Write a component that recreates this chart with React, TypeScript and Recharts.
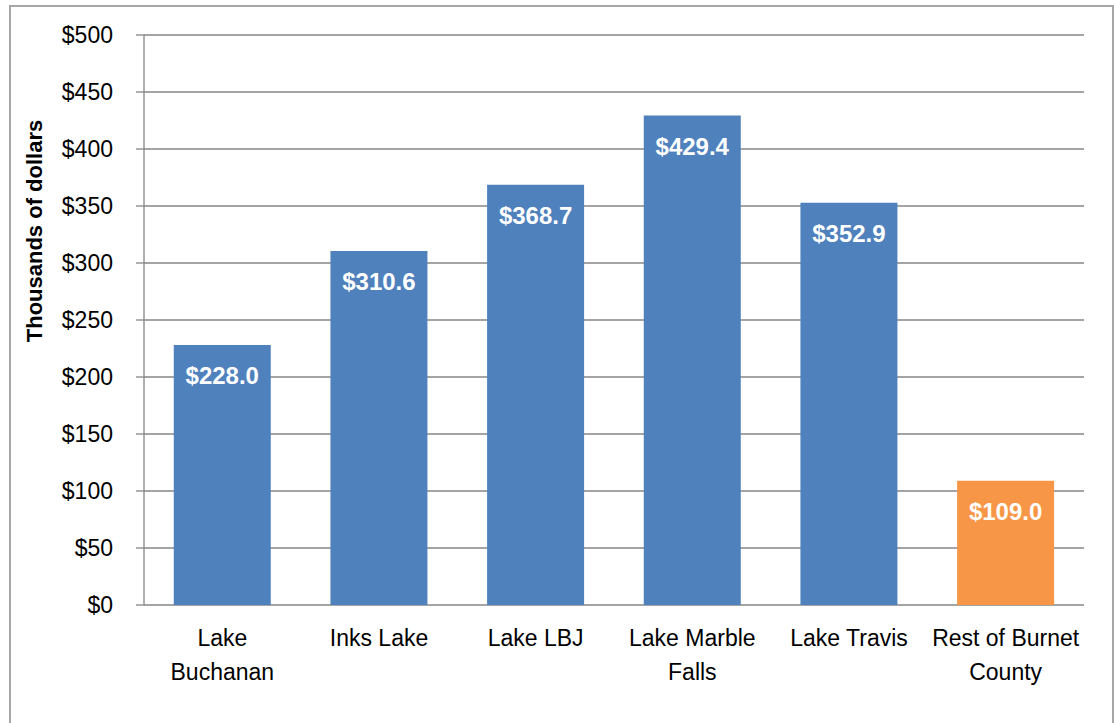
import React from "react";
import { BarChart, Bar, XAxis, YAxis, CartesianGrid, Cell, LabelList } from "recharts";

// Median home value by lake area, thousands of dollars
const categories = [
  "Lake\nBuchanan",
  "Inks Lake",
  "Lake LBJ",
  "Lake Marble\nFalls",
  "Lake Travis",
  "Rest of Burnet\nCounty",
];
const values = [228.0, 310.6, 368.7, 429.4, 352.9, 109.0];
const yTicks = [0, 50, 100, 150, 200, 250, 300, 350, 400, 450, 500];
const highlighted = "Rest of Burnet\nCounty";

const BLUE = "#4F81BD";
const ORANGE = "#F79646";
const GRID = "#868686";
const FONT = "'Liberation Sans', Arial, sans-serif";

const data = categories.map((name, i) => ({ name, value: values[i], pos: i }));
const boundaries = categories.map((_, i) => i).concat(categories.length);

const CategoryTick = (props: any) => {
  const { x, y, payload } = props;
  const lines = String(payload.value).split("\n");
  return (
    <g>
      {lines.map((line, i) => (
        <text
          key={i}
          x={x}
          y={y + 33 + i * 34}
          textAnchor="middle"
          fill="#000"
          fontSize={23}
          fontFamily={FONT}
        >
          {line}
        </text>
      ))}
    </g>
  );
};

const App: React.FC = () => {
  return (
    <div
      style={{
        position: "fixed",
        left: 0,
        top: 0,
        width: 1114,
        height: 723,
        background: "#fff",
        overflow: "hidden",
        fontFamily: FONT,
      }}
    >
      <div
        style={{
          position: "absolute",
          left: 9,
          top: 5,
          width: 1101,
          height: 760,
          border: "2px solid #a6a6a6",
        }}
      />
      <div
        style={{
          position: "absolute",
          left: 35,
          top: 231,
          transform: "translate(-50%, -50%) rotate(-90deg)",
          whiteSpace: "nowrap",
          fontWeight: "bold",
          fontSize: 22,
          color: "#000",
        }}
      >
        Thousands of dollars
      </div>
      <div style={{ position: "absolute", left: 0, top: 0 }}>
        <BarChart
          width={1114}
          height={723}
          data={data}
          margin={{ top: 35, right: 30, bottom: 0, left: 0 }}
          barCategoryGap="19%"
        >
          <CartesianGrid vertical={false} stroke={GRID} strokeWidth={1.3} />
          <XAxis
            xAxisId="edges"
            type="number"
            dataKey="pos"
            domain={[0, categories.length]}
            ticks={boundaries}
            allowDataOverflow
            height={0}
            axisLine={{ stroke: GRID, strokeWidth: 1.3 }}
            tickLine={{ stroke: GRID, strokeWidth: 1.3 }}
            tickSize={7}
            tick={() => <g />}
          />
          <XAxis
            xAxisId="cat"
            dataKey="name"
            height={118}
            axisLine={false}
            tickLine={false}
            interval={0}
            tick={<CategoryTick />}
          />
          <YAxis
            width={144}
            domain={[0, 500]}
            ticks={yTicks}
            interval={0}
            tickFormatter={(v: number) => `$${v}`}
            axisLine={{ stroke: GRID, strokeWidth: 1.3 }}
            tickLine={{ stroke: GRID, strokeWidth: 1.3 }}
            tickSize={8}
            tickMargin={23}
            tick={{ fill: "#000", fontSize: 23, fontFamily: FONT }}
          />
          <Bar dataKey="value" xAxisId="cat" isAnimationActive={false}>
            {data.map((d) => (
              <Cell key={d.name} fill={d.name === highlighted ? ORANGE : BLUE} />
            ))}
            <LabelList
              dataKey="value"
              position="insideTop"
              offset={22}
              formatter={(v: any) => `$${Number(v).toFixed(1)}`}
              fill="#fff"
              fontSize={24}
              fontWeight="bold"
              fontFamily={FONT}
            />
          </Bar>
        </BarChart>
      </div>
    </div>
  );
};

export default App;
